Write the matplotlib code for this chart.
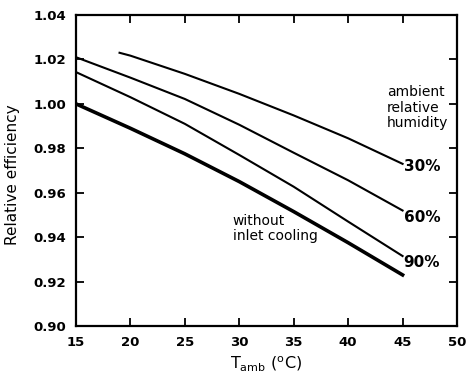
import matplotlib
matplotlib.use("Agg")
import matplotlib.pyplot as plt

plt.rcParams['font.family'] = ['DejaVu Sans']
plt.rcParams['mathtext.fontset'] = 'dejavusans'

# ambient temperature (deg C) and relative efficiency
t_all = [15, 20, 25, 30, 35, 40, 45]
t_30 = [19, 20, 25, 30, 35, 40, 45]
eff_30 = [1.023, 1.0217, 1.0135, 1.0045, 0.9948, 0.9845, 0.973]
eff_60 = [1.021, 1.0118, 1.0022, 0.9906, 0.978, 0.9656, 0.952]
eff_90 = [1.0143, 1.003, 0.991, 0.977, 0.9627, 0.947, 0.9315]
eff_dry = [1.000, 0.989, 0.9775, 0.965, 0.9515, 0.9375, 0.923]

xticks = [15, 20, 25, 30, 35, 40, 45, 50]
yticks = [0.90, 0.92, 0.94, 0.96, 0.98, 1.00, 1.02, 1.04]

fig = plt.figure(figsize=(4.68, 3.87), dpi=100)
ax = fig.add_axes([0.1624, 0.1576, 0.8141, 0.8036])

ax.plot(t_30, eff_30, color='black', lw=1.5)
ax.plot(t_all, eff_60, color='black', lw=1.5)
ax.plot(t_all, eff_90, color='black', lw=1.5)
ax.plot(t_all, eff_dry, color='black', lw=2.6)

ax.set_xlim(15, 50)
ax.set_ylim(0.90, 1.04)
ax.set_xticks(xticks)
ax.set_yticks(yticks)
ax.set_xticklabels([str(v) for v in xticks])
ax.set_yticklabels(['%.2f' % v for v in yticks])
ax.tick_params(direction='in', length=6, width=1.3, top=True, right=True,
               labelsize=9.5, pad=7)
for lab in ax.get_xticklabels() + ax.get_yticklabels():
    lab.set_fontweight('bold')
for s in ax.spines.values():
    s.set_linewidth(1.6)

fig.text(13 / 468, 1 - 175 / 387, 'Relative efficiency', fontsize=11,
         rotation=90, ha='center', va='center')
ax.set_xlabel(r'T$_{\mathrm{amb}}$ ($^{\mathrm{o}}$C)', fontsize=11.5, labelpad=4)

ax.text(43.55, 1.0085, 'ambient\nrelative\nhumidity', fontsize=10,
        va='top', ha='left', linespacing=1.15)
ax.text(45.1, 0.9716, '30%', fontsize=11, va='center', ha='left', fontweight='bold')
ax.text(45.1, 0.949, '60%', fontsize=11, va='center', ha='left', fontweight='bold')
ax.text(45.1, 0.9288, '90%', fontsize=11, va='center', ha='left', fontweight='bold')
ax.text(29.4, 0.9505, 'without\ninlet cooling', fontsize=10, va='top', ha='left',
        linespacing=1.15)

fig.savefig('out.png', dpi=100)
